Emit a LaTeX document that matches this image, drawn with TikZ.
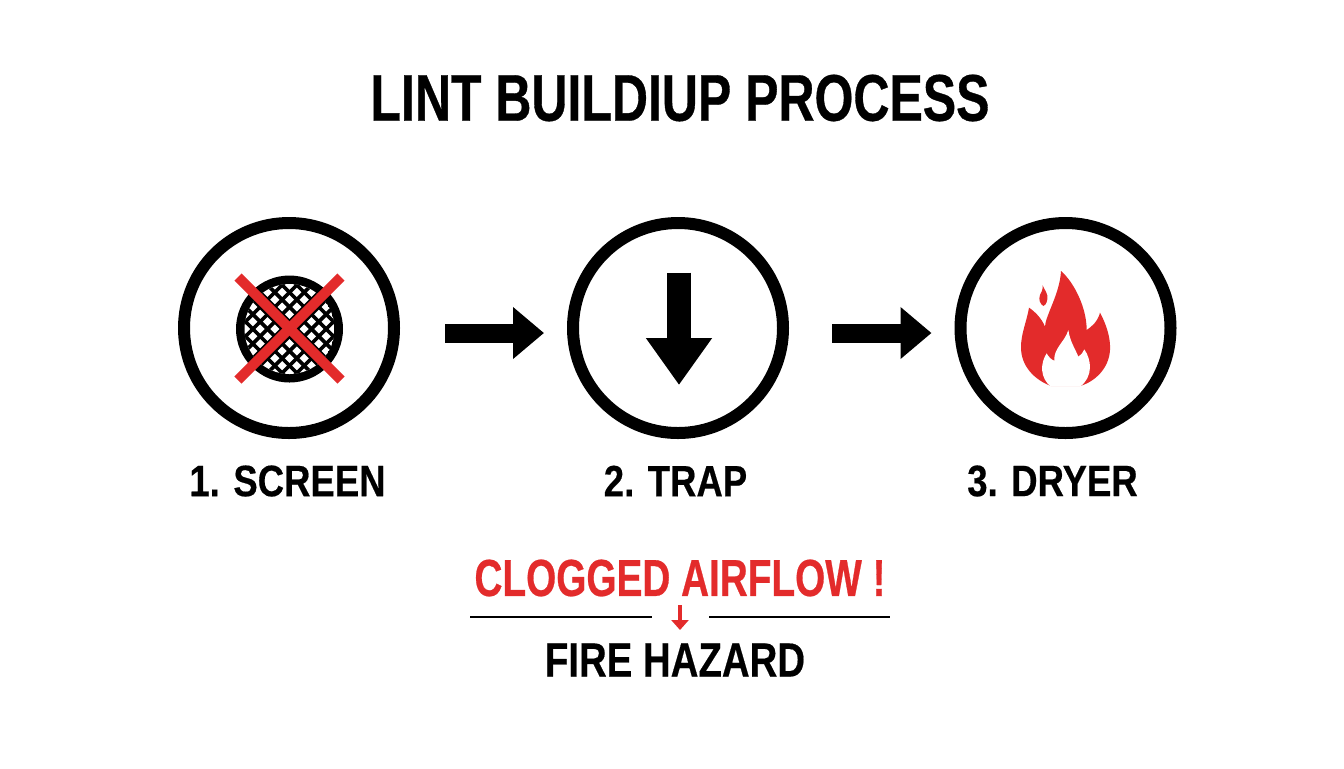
\documentclass[tikz,border=0pt]{standalone}
\usepackage{fontspec}
\setmainfont{Liberation Sans}
\newfontfamily\headface{Liberation Sans}[FakeStretch=0.757,FakeBold=0.5]
\newfontfamily\labface{Liberation Sans}[FakeStretch=0.83,FakeBold=0.4]
\newfontfamily\warnface{Liberation Sans}[FakeStretch=0.745,FakeBold=0.5]
\newfontfamily\fireface{Liberation Sans}[FakeStretch=0.80,FakeBold=0.4]
\usepackage{xcolor}
\usetikzlibrary{calc,arrows.meta}
\definecolor{ink}{HTML}{000000}
\definecolor{alarm}{HTML}{E32B2B}
\tikzset{
  stage/.style={circle, draw=ink, line width=6pt, minimum size=105pt, inner sep=0pt},
  flow/.style={draw=ink, line width=9.5pt, -{Triangle[length=15.5pt,width=25pt]}},
  drop/.style={draw=ink, line width=12pt, -{Triangle[length=23.5pt,width=31.5pt]}},
  cross/.style={draw=alarm, line width=5pt},
  rulebar/.style={draw=ink, line width=1pt},
  tick/.style={draw=alarm, line width=1.6pt, -{Triangle[length=5pt,width=8.5pt]}},
  head/.style={text=ink, font=\headface\bfseries\fontsize{33}{36}\selectfont},
  lab/.style={text=ink, font=\labface\bfseries\fontsize{22}{26}\selectfont},
  warn/.style={text=alarm, font=\warnface\bfseries\fontsize{26}{30}\selectfont},
  hazard/.style={text=ink, font=\fireface\bfseries\fontsize{24}{28}\selectfont},
}
\begin{document}
\begin{tikzpicture}[x=0.5pt,y=-0.5pt]
  \useasboundingbox[fill=white] (0,0) rectangle (1344,768);
  \node[head] (title) at (680,98) {LINT BUILDIUP PROCESS};
  \node[stage] (screen) at (289,328) {};
  \node[stage] (trap) at (678,328) {};
  \node[stage] (dryer) at (1065.5,328) {};
  \node[lab] (screenlab) at (287.5,481) {1. SCREEN};
  \node[lab] (traplab) at (675.5,481) {2. TRAP};
  \node[lab] (dryerlab) at (1052.5,481) {3. DRYER};
  \draw[flow] ($(screen.east)+(45,5)$) -- ($(trap.west)+(-23,5)$);
  \draw[flow] ($(trap.east)+(43,5)$) -- ($(dryer.west)+(-23,5)$);
  % mesh
  \coordinate (meshc) at (289.5,329);
  \fill[ink] (meshc) circle (53.5);
  \begin{scope}
    \clip (meshc) circle (45);
    \fill[white] (meshc) circle (45);
    \foreach \k in {-5,...,4} {
      \draw[ink, line width=1.8pt] ($(meshc)+({7.33+14.67*\k-60},60)$) -- ++(120,-120);
      \draw[ink, line width=1.8pt] ($(meshc)+({7.33+14.67*\k-60},-60)$) -- ++(120,120);
    }
  \end{scope}
  \draw[cross] (238,277) -- (341,380);
  \draw[cross] (341,277) -- (238,380);
  % down arrow
  \coordinate (droptop) at (679,272.5);
  \coordinate (dropend) at (679,385);
  \draw[drop] (droptop) -- (dropend);
  % flame
  \begin{scope}[shift={(945,210)},scale=1/3]
    \fill[alarm] (348,183) .. controls (385,215) and (425,290) .. (425,360)
      .. controls (440,350) and (458,335) .. (465,308)
      .. controls (485,345) and (497,385) .. (495,420)
      .. controls (492,475) and (450,515) .. (405,528)
      -- (318,528)
      .. controls (270,510) and (228,470) .. (228,412)
      .. controls (228,370) and (245,335) .. (252,293)
      .. controls (270,305) and (290,325) .. (300,350)
      .. controls (300,320) and (345,250) .. (348,183) -- cycle;
    \fill[white] (318,530) .. controls (285,505) and (285,460) .. (305,430)
      .. controls (310,440) and (320,450) .. (328,452)
      .. controls (325,415) and (360,395) .. (370,360)
      .. controls (375,395) and (390,415) .. (400,440)
      .. controls (408,435) and (414,428) .. (418,418)
      .. controls (440,450) and (445,500) .. (405,530) -- cycle;
    \fill[alarm] (293,226) .. controls (298,240) and (310,250) .. (307,268)
      .. controls (305,282) and (298,288) .. (295,288)
      .. controls (285,282) and (280,268) .. (285,255)
      .. controls (289,246) and (294,240) .. (293,226) -- cycle;
  \end{scope}
  % warning block
  \node[warn] (clog) at (680,578) {CLOGGED AIRFLOW !};
  \node[hazard] (fire) at (675,660) {FIRE HAZARD};
  \coordinate (ruleAa) at (470,617);
  \coordinate (ruleAb) at (652,617);
  \coordinate (ruleBa) at (709,617);
  \coordinate (ruleBb) at (890,617);
  \draw[rulebar] (ruleAa) -- (ruleAb);
  \draw[rulebar] (ruleBa) -- (ruleBb);
  \coordinate (ticktop) at (680,605);
  \coordinate (tickend) at (680,630);
  \draw[tick] (ticktop) -- (tickend);
\end{tikzpicture}
\end{document}
